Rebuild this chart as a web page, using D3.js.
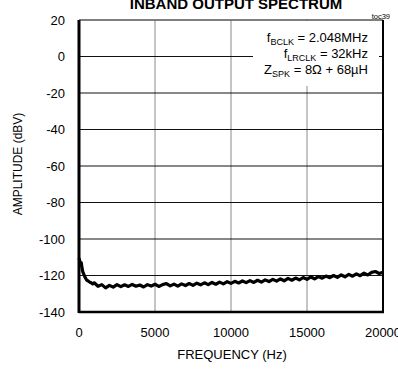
<!DOCTYPE html>
<html>
<head>
<meta charset="utf-8">
<script src="https://cdn.jsdelivr.net/npm/d3@7"></script>
<style>
  body { margin: 0; background: #fff; }
  text { font-family: "Liberation Sans", Arial, sans-serif; }
</style>
</head>
<body>
<div id="chart"></div>
<script>
// ---------------------Data

const freqs = [0, 50, 100, 150, 200, 250, 300, 350, 400, 500, 600, 700, 800, 900,
  1000, 1250, 1500, 1750, 2000, 2250, 2500, 2750, 3000, 3250, 3500, 3750, 4000,
  4250, 4500, 4750, 5000, 5250, 5500, 5750, 6000, 6250, 6500, 6750, 7000, 7250,
  7500, 7750, 8000, 8250, 8500, 8750, 9000, 9250, 9500, 9750, 10000, 10250, 10500,
  10750, 11000, 11250, 11500, 11750, 12000, 12250, 12500, 12750, 13000, 13250,
  13500, 13750, 14000, 14250, 14500, 14750, 15000, 15250, 15500, 15750, 16000,
  16250, 16500, 16750, 17000, 17250, 17500, 17750, 18000, 18250, 18500, 18750,
  19000, 19250, 19500, 19750, 20000]

const amps = [-110.5, -112, -114, -113, -116, -118, -119, -120, -121, -122.5, -123, -123.6, -124, -124.6,
  -124.0, -125.9, -125.0, -126.8, -125.4, -126.4, -125.0, -126.1, -125.1, -126.0, -124.9, -125.9, -125.2,
  -126.3, -125.0, -125.8, -124.8, -126.0, -125.0, -124.4, -125.7, -124.7, -125.8, -124.6, -125.5, -124.4,
  -125.4, -124.2, -125.1, -124.0, -125.0, -123.8, -124.8, -123.6, -124.6, -123.4, -124.3, -123.2, -124.1,
  -123.0, -123.9, -122.8, -123.8, -122.6, -123.6, -122.4, -123.3, -122.1, -123.1, -121.9,
  -122.9, -121.6, -122.6, -121.4, -122.4, -121.1, -122.1, -120.8, -121.8, -120.6, -121.5,
  -120.3, -121.2, -120.0, -121.0, -119.7, -120.7, -119.4, -120.4, -119.1, -120.1, -118.7,
  -119.7, -118.3, -117.8, -118.9, -118.2]

const xTicks = [0, 5000, 10000, 15000, 20000]
const yTicks = [20, 0, -20, -40, -60, -80, -100, -120, -140]

const legendLines = [
  { main: "f", sub: "BCLK", rest: " = 2.048MHz" },
  { main: "f", sub: "LRCLK", rest: " = 32kHz" },
  { main: "Z", sub: "SPK", rest: " = 8\u03A9 + 68\u00B5H" }
]

const dataset = freqs.map((f, i) => ({ freq: f, amp: amps[i] }))

// ---------------------Dimensions

let dimensions = {
  width: 398,
  height: 381,
  left: 79,
  right: 383,
  top: 20,
  bottom: 312
}

const svg = d3.select("#chart")
  .append("svg")
  .attr("width", dimensions.width)
  .attr("height", dimensions.height)

// ---------------------Scales

const xScale = d3.scaleLinear()
  .domain([0, 20000])
  .range([dimensions.left, dimensions.right])

const yScale = d3.scaleLinear()
  .domain([-140, 20])
  .range([dimensions.bottom, dimensions.top])

// ---------------------Grid

svg.append("g")
  .selectAll("line")
  .data(xTicks.slice(1, -1))
  .join("line")
  .attr("x1", d => xScale(d))
  .attr("x2", d => xScale(d))
  .attr("y1", dimensions.top)
  .attr("y2", dimensions.bottom)
  .attr("stroke", "#8a8a8a")
  .attr("stroke-width", 1)

svg.append("g")
  .selectAll("line")
  .data(yTicks.slice(1, -1))
  .join("line")
  .attr("x1", dimensions.left)
  .attr("x2", dimensions.right)
  .attr("y1", d => yScale(d))
  .attr("y2", d => yScale(d))
  .attr("stroke", "#111")
  .attr("stroke-width", 1)

// ---------------------Legend box (covers grid)

svg.append("rect")
  .attr("x", 253)
  .attr("y", dimensions.top + 1)
  .attr("width", 126)
  .attr("height", 65)
  .attr("fill", "#fff")

const legend = svg.append("g")
legendLines.forEach((l, i) => {
  const t = legend.append("text")
    .attr("x", 368)
    .attr("y", 42 + i * 16)
    .attr("text-anchor", "end")
    .style("font-size", "13px")
  t.append("tspan").text(l.main)
  t.append("tspan").attr("dy", 3).style("font-size", "9px").text(l.sub)
  t.append("tspan").attr("dy", -3).text(l.rest)
})

// ---------------------Line

const lineGenerator = d3.line()
  .x(d => xScale(d.freq))
  .y(d => yScale(d.amp))

svg.append("path")
  .datum(dataset)
  .attr("d", lineGenerator)
  .attr("fill", "none")
  .attr("stroke", "#000")
  .attr("stroke-width", 3.2)
  .attr("stroke-linejoin", "round")

// ---------------------Frame

svg.append("line")
  .attr("x1", dimensions.left).attr("x2", dimensions.right)
  .attr("y1", dimensions.top).attr("y2", dimensions.top)
  .attr("stroke", "#555").attr("stroke-width", 1.5)
svg.append("line")
  .attr("x1", dimensions.left).attr("x2", dimensions.right + 1)
  .attr("y1", dimensions.bottom).attr("y2", dimensions.bottom)
  .attr("stroke", "#000").attr("stroke-width", 2.5)
svg.append("line")
  .attr("x1", dimensions.left).attr("x2", dimensions.left)
  .attr("y1", dimensions.top).attr("y2", dimensions.bottom + 1)
  .attr("stroke", "#000").attr("stroke-width", 3)
svg.append("line")
  .attr("x1", dimensions.right).attr("x2", dimensions.right)
  .attr("y1", dimensions.top).attr("y2", dimensions.bottom + 1)
  .attr("stroke", "#000").attr("stroke-width", 2)

// ---------------------Tick labels

svg.append("g")
  .selectAll("text")
  .data(yTicks)
  .join("text")
  .attr("x", 65)
  .attr("y", d => yScale(d))
  .attr("dy", "0.36em")
  .attr("text-anchor", "end")
  .style("font-size", "13px")
  .text(d => d)

svg.append("g")
  .selectAll("text")
  .data(xTicks)
  .join("text")
  .attr("x", d => xScale(d))
  .attr("y", 337)
  .attr("text-anchor", "middle")
  .style("font-size", "13px")
  .text(d => d)

// ---------------------Axis titles

svg.append("text")
  .attr("x", 232)
  .attr("y", 359)
  .attr("text-anchor", "middle")
  .style("font-size", "13px")
  .text("FREQUENCY (Hz)")

svg.append("text")
  .attr("transform", "translate(22,164) rotate(-90)")
  .attr("text-anchor", "middle")
  .style("font-size", "12px")
  .text("AMPLITUDE (dBV)")

// ---------------------Title + code

svg.append("text")
  .attr("x", 236)
  .attr("y", 9)
  .attr("text-anchor", "middle")
  .style("font-size", "15px")
  .style("font-weight", "bold")
  .text("INBAND OUTPUT SPECTRUM")

svg.append("text")
  .attr("x", 390)
  .attr("y", 19)
  .attr("text-anchor", "end")
  .style("font-size", "7.5px")
  .text("toc39")
</script>
</body>
</html>
